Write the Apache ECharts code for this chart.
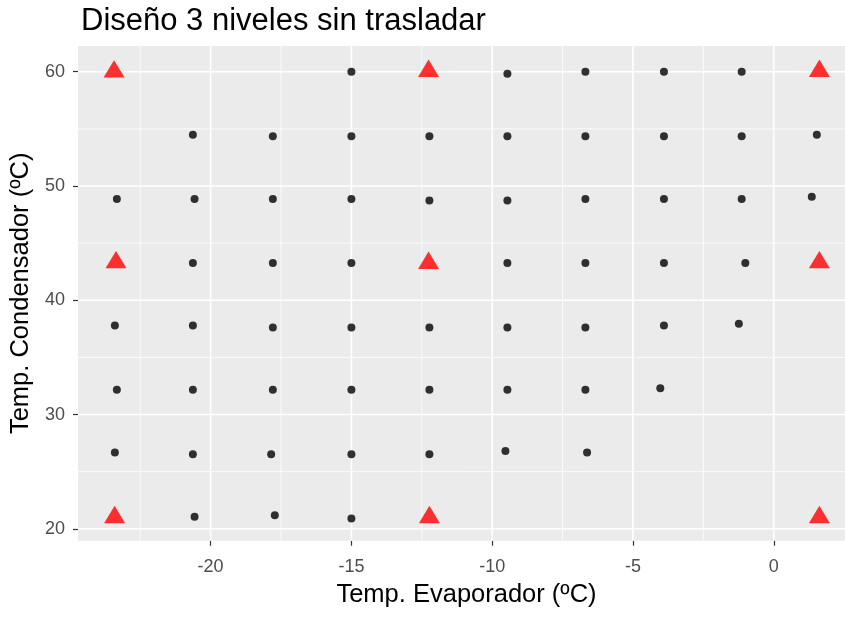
<!DOCTYPE html>
<html>
<head>
<meta charset="utf-8">
<script src="https://cdn.jsdelivr.net/npm/echarts@6/dist/echarts.min.js"></script>
<style>html,body{margin:0;padding:0;background:#fff;}#c{width:845px;height:617px;}</style>
</head>
<body>
<div id="c"></div>
<script>
const titleText = "Diseño 3 niveles sin trasladar";
const xTitle = "Temp. Evaporador (ºC)";
const yTitle = "Temp. Condensador (ºC)";
const xTicks = [-20, -15, -10, -5, 0];
const yTicks = [20, 30, 40, 50, 60];
const xMinor = [-22.5, -17.5, -12.5, -7.5, -2.5];
const yMinor = [25, 35, 45, 55];

// black dots (evaporator, condenser)
const dotEvap = [
  -15.0, -9.46, -6.69, -3.90, -1.14,
  -20.63, -17.79, -15.0, -12.23, -9.46, -6.69, -3.90, -1.14, 1.53,
  -23.33, -20.57, -17.79, -15.0, -12.23, -9.46, -6.69, -3.90, -1.14, 1.35,
  -20.63, -17.79, -15.0, -9.46, -6.69, -3.90, -1.01,
  -23.40, -20.63, -17.79, -15.0, -12.23, -9.46, -6.69, -3.90, -1.24,
  -23.33, -20.63, -17.79, -15.0, -12.23, -9.46, -6.69, -4.03,
  -23.40, -20.63, -17.85, -15.0, -12.23, -9.53, -6.63,
  -20.57, -17.72, -15.0
];
const dotCond = [
  60.0, 59.83, 60.0, 60.0, 60.0,
  54.49, 54.35, 54.35, 54.35, 54.35, 54.35, 54.35, 54.35, 54.49,
  48.87, 48.87, 48.87, 48.87, 48.72, 48.72, 48.87, 48.87, 48.87, 49.05,
  43.25, 43.25, 43.25, 43.25, 43.25, 43.25, 43.25,
  37.80, 37.80, 37.62, 37.62, 37.62, 37.62, 37.62, 37.80, 37.95,
  32.18, 32.18, 32.18, 32.18, 32.18, 32.18, 32.18, 32.29,
  26.67, 26.52, 26.52, 26.52, 26.52, 26.82, 26.67,
  21.05, 21.19, 20.9
];
// red triangles (design points)
const triEvap = [-23.43, -12.26, 1.62, -23.36, -12.26, 1.62, -23.41, -12.23, 1.62];
const triCond = [60.0, 60.05, 60.05, 43.3, 43.25, 43.3, 21.0, 21.0, 21.0];

const X_MIN = -24.71, X_MAX = 2.53, Y_MIN = 18.96, Y_MAX = 62.25;

const dots = dotEvap.map((x, i) => [x, dotCond[i]]);
const tris = triEvap.map((x, i) => [x, triCond[i]]);

const FONT = "'Liberation Sans', Arial, sans-serif";
const triH = 17.3;

function gridSeries(values, vertical, width) {
  return values.map(v => ({
    type: 'line', z: 1, silent: true, symbol: 'none', animation: false,
    lineStyle: {color: '#ffffff', width: width},
    data: vertical ? [[v, Y_MIN], [v, Y_MAX]] : [[X_MIN, v], [X_MAX, v]]
  }));
}

const chart = echarts.init(document.getElementById('c'), null, {renderer: 'canvas'});
chart.setOption({
  animation: false,
  backgroundColor: '#ffffff',
  title: {
    text: titleText, left: 76, top: 1,
    textStyle: {fontFamily: FONT, fontSize: 31, fontWeight: 'normal', color: '#000'}
  },
  grid: {
    left: 78, right: 0, top: 46, bottom: 76.3,
    show: true, backgroundColor: '#EBEBEB', borderWidth: 0, containLabel: false
  },
  xAxis: {
    type: 'value', min: X_MIN, max: X_MAX,
    name: xTitle, nameLocation: 'middle', nameGap: 41,
    nameTextStyle: {fontFamily: FONT, fontSize: 25.5, color: '#000', padding: [0, 0, 0, 10]},
    axisLine: {show: false, onZero: false},
    axisTick: {show: true, customValues: xTicks, length: 5, lineStyle: {color: '#333333', width: 1.2}},
    axisLabel: {customValues: xTicks, margin: 17, fontFamily: FONT, fontSize: 18, color: '#4D4D4D'},
    splitLine: {show: false}
  },
  yAxis: {
    type: 'value', min: Y_MIN, max: Y_MAX,
    name: yTitle, nameLocation: 'middle', nameGap: 34.5, nameRotate: 90,
    nameTextStyle: {fontFamily: FONT, fontSize: 25.5, color: '#000'},
    axisLine: {show: false, onZero: false},
    axisTick: {show: true, customValues: yTicks, length: 5, lineStyle: {color: '#333333', width: 1.2}},
    axisLabel: {customValues: yTicks, margin: 13, fontFamily: FONT, fontSize: 18, color: '#4D4D4D'},
    splitLine: {show: false}
  },
  series: [].concat(
    gridSeries(xMinor, true, 0.8),
    gridSeries(yMinor, false, 0.8),
    gridSeries(xTicks, true, 1.6),
    gridSeries(yTicks, false, 1.6),
    [
      {
        type: 'scatter', z: 3, silent: true,
        symbol: 'circle', symbolSize: 8,
        itemStyle: {color: '#000000'},
        data: dots
      },
      {
        type: 'scatter', z: 4, silent: true,
        symbol: 'triangle', symbolSize: [21, triH], symbolOffset: [0, -triH / 6],
        itemStyle: {color: '#FF0000'},
        data: tris
      }
    ]
  )
});
</script>
</body>
</html>
